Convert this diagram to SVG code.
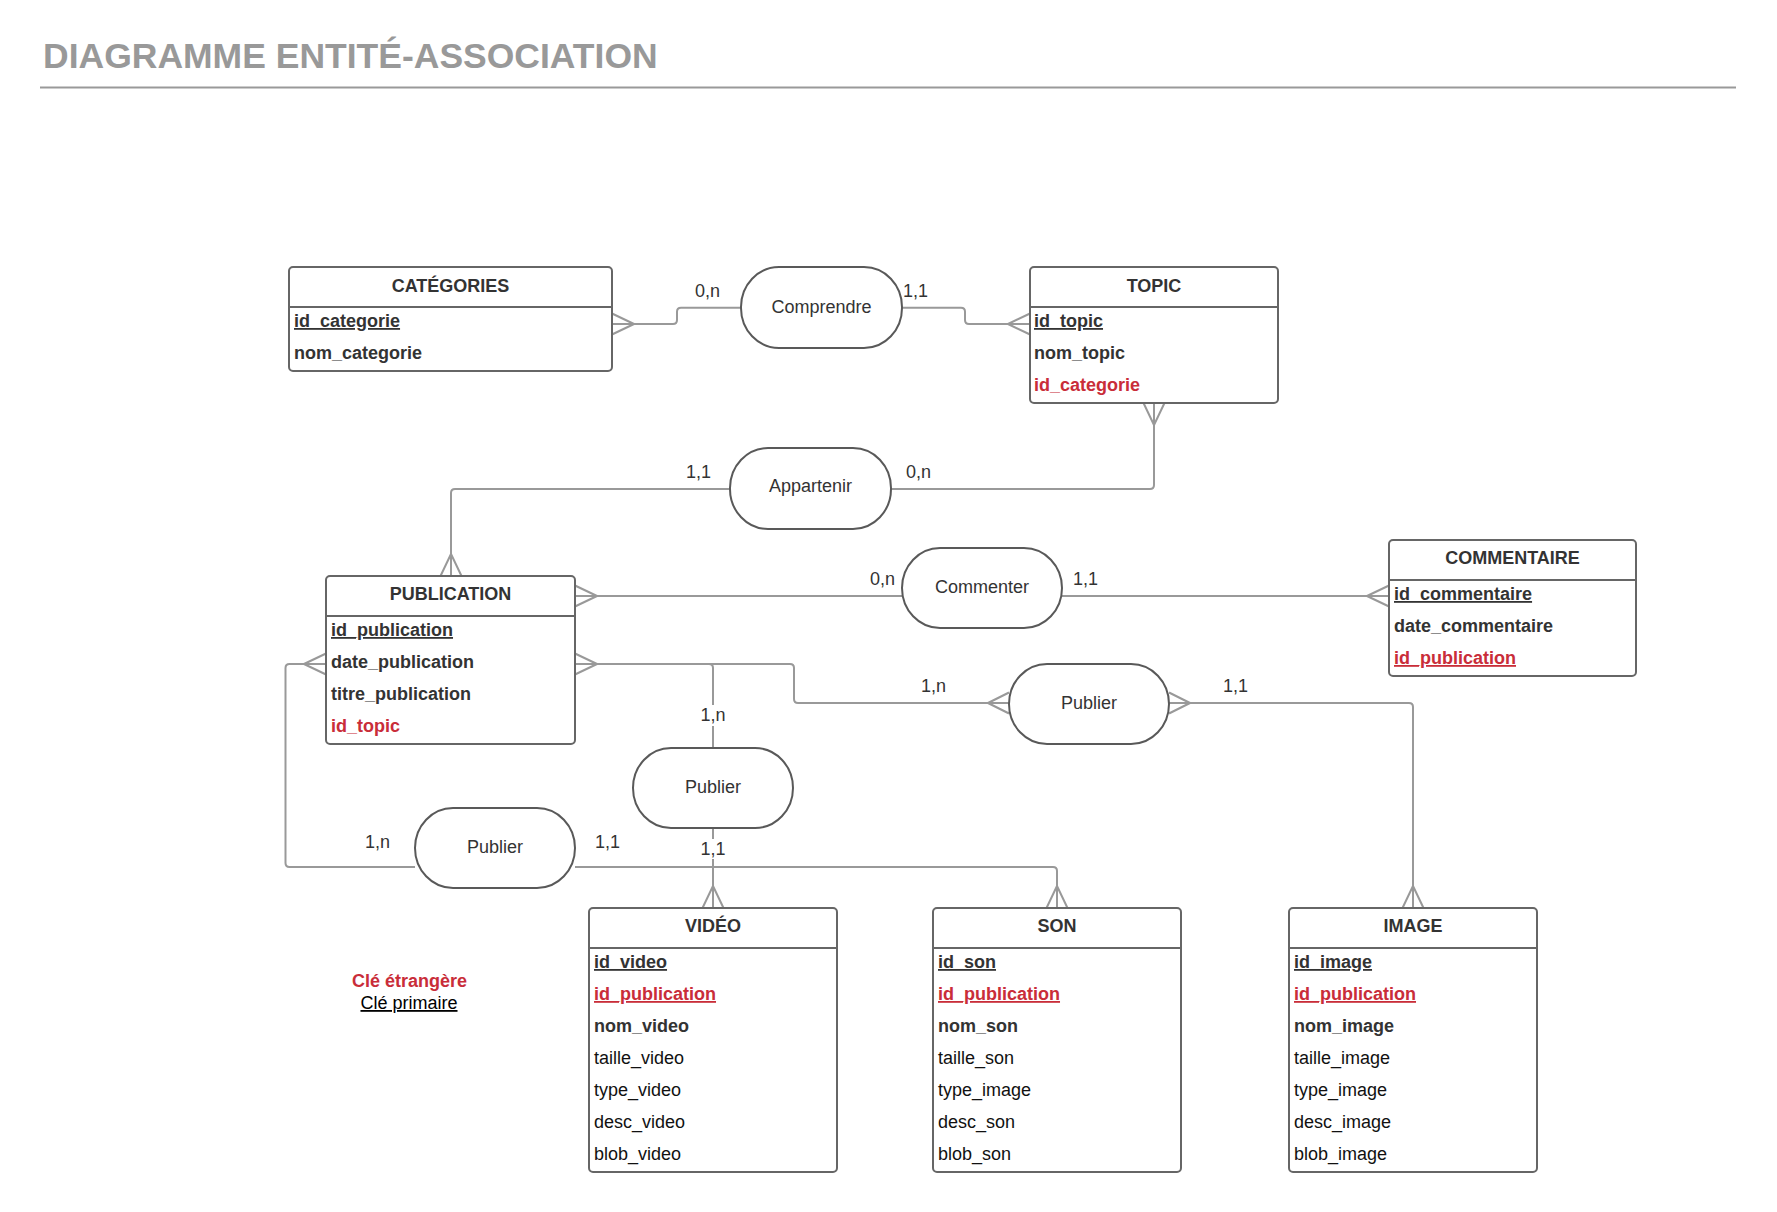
<svg xmlns="http://www.w3.org/2000/svg" width="1777" height="1212" viewBox="0 0 1777 1212">
<style>
text{font-family:"Liberation Sans",Arial,sans-serif;font-size:18px}
.box{fill:#fff;stroke:#666;stroke-width:2}
.div{stroke:#666;stroke-width:2}
.pill{fill:#fff;stroke:#595959;stroke-width:2}
.conn{fill:none;stroke:#999;stroke-width:2}
.hd{font-weight:bold;fill:#333;text-anchor:middle}
.b{font-weight:bold;fill:#333}
.r{fill:#111}
.fk{font-weight:bold;fill:#c92d39}
.u{text-decoration:underline}
.lbl{fill:#333}
.pt{fill:#333;text-anchor:middle}
</style>
<rect width="1777" height="1212" fill="#fff"/>
<text x="43" y="68" style="font-size:35.5px;font-weight:bold;fill:#999">DIAGRAMME ENTITÉ-ASSOCIATION</text>
<line x1="40" y1="87.5" x2="1736" y2="87.5" stroke="#999" stroke-width="2"/>

<g id="connectors">
<path class="conn" d="M612,324 H673 Q677,324 677,320 V311.7 Q677,307.7 681,307.7 H741"/>
<path class="conn" d="M612,313.5 L634,324 M612,334.5 L634,324"/>
<path class="conn" d="M902,307.7 H961 Q965,307.7 965,311.7 V320 Q965,324 969,324 H1030"/>
<path class="conn" d="M1030,313.5 L1008,324 M1030,334.5 L1008,324"/>
<path class="conn" d="M1154,403 V485 Q1154,489 1150,489 H891"/>
<path class="conn" d="M1143.5,403 L1154,425 M1164.5,403 L1154,425"/>
<path class="conn" d="M730,489 H455 Q451,489 451,493 V576"/>
<path class="conn" d="M440.5,576 L451,554 M461.5,576 L451,554"/>
<path class="conn" d="M575,596 H902"/>
<path class="conn" d="M575,585.5 L597,596 M575,606.5 L597,596"/>
<path class="conn" d="M1062,596 H1389"/>
<path class="conn" d="M1389,585.5 L1367,596 M1389,606.5 L1367,596"/>
<path class="conn" d="M575,664 H709 Q713,664 713,668 V748"/>
<path class="conn" d="M575,653.5 L597,664 M575,674.5 L597,664"/>
<path class="conn" d="M713,828 V908"/>
<path class="conn" d="M702.5,908 L713,886 M723.5,908 L713,886"/>
<path class="conn" d="M575,664 H790 Q794,664 794,668 V699 Q794,703 798,703 H1009"/>
<path class="conn" d="M1009,692.5 L988,703 M1009,713.5 L988,703"/>
<path class="conn" d="M1169,703 H1409 Q1413,703 1413,707 V908"/>
<path class="conn" d="M1169,692.5 L1190,703 M1169,713.5 L1190,703"/>
<path class="conn" d="M1402.5,908 L1413,886 M1423.5,908 L1413,886"/>
<path class="conn" d="M326,664 H289.5 Q285.5,664 285.5,668 V863 Q285.5,867 289.5,867 H415"/>
<path class="conn" d="M326,653.5 L304,664 M326,674.5 L304,664"/>
<path class="conn" d="M575,867 H1053 Q1057,867 1057,871 V908"/>
<path class="conn" d="M1046.5,908 L1057,886 M1067.5,908 L1057,886"/>
<rect x="699" y="705" width="28" height="21" fill="#fff"/>
<rect x="699" y="839" width="28" height="20" fill="#fff"/>
<text class="lbl" x="695" y="297">0,n</text>
<text class="lbl" x="903" y="297">1,1</text>
<text class="lbl" x="686" y="478">1,1</text>
<text class="lbl" x="906" y="478">0,n</text>
<text class="lbl" x="870" y="585">0,n</text>
<text class="lbl" x="1073" y="585">1,1</text>
<text class="lbl" x="713" y="721" text-anchor="middle">1,n</text>
<text class="lbl" x="713" y="855" text-anchor="middle">1,1</text>
<text class="lbl" x="365" y="848">1,n</text>
<text class="lbl" x="595" y="848">1,1</text>
<text class="lbl" x="921" y="692">1,n</text>
<text class="lbl" x="1223" y="692">1,1</text>
</g>

<g id="categories">
<rect class="box" x="289" y="267" width="323" height="104" rx="4"/>
<line class="div" x1="289" y1="307" x2="612" y2="307"/>
<text class="hd" x="450.5" y="292">CATÉGORIES</text>
<text class="b u" x="294" y="327">id_categorie</text>
<text class="b" x="294" y="359">nom_categorie</text>
</g>

<g id="topic">
<rect class="box" x="1030" y="267" width="248" height="136" rx="4"/>
<line class="div" x1="1030" y1="307" x2="1278" y2="307"/>
<text class="hd" x="1154" y="292">TOPIC</text>
<text class="b u" x="1034" y="327">id_topic</text>
<text class="b" x="1034" y="359">nom_topic</text>
<text class="fk" x="1034" y="391">id_categorie</text>
</g>

<g id="publication">
<rect class="box" x="326" y="576" width="249" height="168" rx="4"/>
<line class="div" x1="326" y1="616" x2="575" y2="616"/>
<text class="hd" x="450.5" y="600">PUBLICATION</text>
<text class="b u" x="331" y="636">id_publication</text>
<text class="b" x="331" y="668">date_publication</text>
<text class="b" x="331" y="700">titre_publication</text>
<text class="fk" x="331" y="732">id_topic</text>
</g>

<g id="commentaire">
<rect class="box" x="1389" y="540" width="247" height="136" rx="4"/>
<line class="div" x1="1389" y1="580" x2="1636" y2="580"/>
<text class="hd" x="1512.5" y="564">COMMENTAIRE</text>
<text class="b u" x="1394" y="600">id_commentaire</text>
<text class="b" x="1394" y="632">date_commentaire</text>
<text class="fk u" x="1394" y="664">id_publication</text>
</g>

<g id="video">
<rect class="box" x="589" y="908" width="248" height="264" rx="4"/>
<line class="div" x1="589" y1="948" x2="837" y2="948"/>
<text class="hd" x="713" y="932">VIDÉO</text>
<text class="b u" x="594" y="968">id_video</text>
<text class="fk u" x="594" y="1000">id_publication</text>
<text class="b" x="594" y="1032">nom_video</text>
<text class="r" x="594" y="1064">taille_video</text>
<text class="r" x="594" y="1096">type_video</text>
<text class="r" x="594" y="1128">desc_video</text>
<text class="r" x="594" y="1160">blob_video</text>
</g>

<g id="son">
<rect class="box" x="933" y="908" width="248" height="264" rx="4"/>
<line class="div" x1="933" y1="948" x2="1181" y2="948"/>
<text class="hd" x="1057" y="932">SON</text>
<text class="b u" x="938" y="968">id_son</text>
<text class="fk u" x="938" y="1000">id_publication</text>
<text class="b" x="938" y="1032">nom_son</text>
<text class="r" x="938" y="1064">taille_son</text>
<text class="r" x="938" y="1096">type_image</text>
<text class="r" x="938" y="1128">desc_son</text>
<text class="r" x="938" y="1160">blob_son</text>
</g>

<g id="image">
<rect class="box" x="1289" y="908" width="248" height="264" rx="4"/>
<line class="div" x1="1289" y1="948" x2="1537" y2="948"/>
<text class="hd" x="1413" y="932">IMAGE</text>
<text class="b u" x="1294" y="968">id_image</text>
<text class="fk u" x="1294" y="1000">id_publication</text>
<text class="b" x="1294" y="1032">nom_image</text>
<text class="r" x="1294" y="1064">taille_image</text>
<text class="r" x="1294" y="1096">type_image</text>
<text class="r" x="1294" y="1128">desc_image</text>
<text class="r" x="1294" y="1160">blob_image</text>
</g>

<g id="comprendre">
<rect class="pill" x="741" y="267" width="161" height="81" rx="38" ry="40"/>
<text class="pt" x="821.5" y="313">Comprendre</text>
</g>
<g id="appartenir">
<rect class="pill" x="730" y="448" width="161" height="81" rx="38" ry="40"/>
<text class="pt" x="810.5" y="492">Appartenir</text>
</g>
<g id="commenter">
<rect class="pill" x="902" y="548" width="160" height="80" rx="38" ry="40"/>
<text class="pt" x="982" y="593">Commenter</text>
</g>
<g id="publier-video">
<rect class="pill" x="633" y="748" width="160" height="80" rx="38" ry="40"/>
<text class="pt" x="713" y="793">Publier</text>
</g>
<g id="publier-son">
<rect class="pill" x="415" y="808" width="160" height="80" rx="38" ry="40"/>
<text class="pt" x="495" y="853">Publier</text>
</g>
<g id="publier-image">
<rect class="pill" x="1009" y="664" width="160" height="80" rx="38" ry="40"/>
<text class="pt" x="1089" y="709">Publier</text>
</g>

<g id="legend">
<text x="409.5" y="987" text-anchor="middle" style="font-weight:bold;fill:#c92d39">Clé étrangère</text>
<text x="409" y="1009" text-anchor="middle" class="u" style="fill:#000">Clé primaire</text>
</g>
</svg>
